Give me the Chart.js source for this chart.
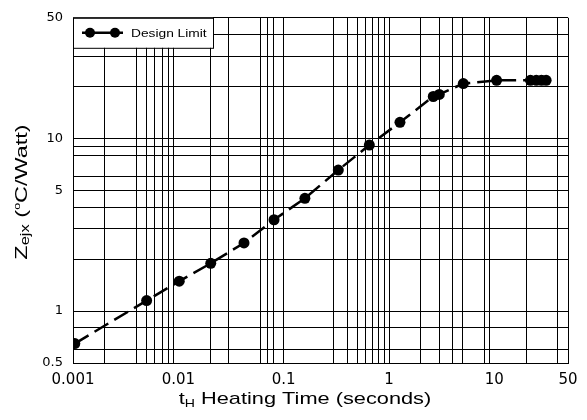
<!DOCTYPE html>
<html><head><meta charset="utf-8">
<script src="https://cdn.jsdelivr.net/npm/chart.js@4/dist/chart.umd.min.js"></script>
<style>html,body{margin:0;padding:0;background:#fff;}#wrap{width:587px;height:420px;position:relative;}canvas{display:block;}</style>
</head><body><div id="wrap"><canvas id="c" width="587" height="420"></canvas></div>
<script>
// ---- data ----
const heatingTime = [0.00104, 0.005, 0.0102, 0.0203, 0.042, 0.081, 0.159, 0.33, 0.65, 1.27, 2.63, 3.0, 5.07, 10.5, 22, 25, 28, 31];
const zejx        = [0.648, 1.15, 1.49, 1.89, 2.48, 3.38, 4.5, 6.56, 9.15, 12.4, 17.5, 18.0, 20.8, 21.7, 21.7, 21.7, 21.7, 21.7];
const seriesLabel = 'Design Limit';

// tick labels and the grid lines visible in the reference
const xTickLabels = [0.001, 0.01, 0.1, 1, 10, 50];
const yTickLabels = [0.5, 1, 5, 10, 50];
const xGridLines  = [0.001, 0.002, 0.004, 0.005, 0.006, 0.007, 0.008, 0.009, 0.02, 0.03, 0.06, 0.07, 0.08, 0.1,
                     0.3, 0.4, 0.5, 0.6, 0.7, 0.8, 0.9, 1, 2, 3, 4, 5, 8, 9, 20, 40, 50];
const yGridLines  = [0.5, 0.6, 0.8, 1, 2, 3, 4, 5, 6, 8, 9, 10, 20, 30, 40, 50];

const same = (a, b) => Math.abs(a - b) / b < 1e-6;
const inList = (list, v) => list.some(t => same(t, v));
const tickSet = (grid, labels) => {
  const all = grid.slice();
  labels.forEach(l => { if (!inList(all, l)) all.push(l); });
  return all.sort((a, b) => a - b);
};
const fmt = v => String(v);

const TXT = 'Liberation Sans, Arial, sans-serif';

function drawRich(ctx, parts) {
  let x = 0;
  parts.forEach(p => {
    ctx.font = p.size + 'px ' + TXT;
    ctx.fillText(p.text, x, p.dy || 0);
    x += ctx.measureText(p.text).width;
  });
  return x;
}
function richWidth(ctx, parts) {
  let w = 0;
  parts.forEach(p => { ctx.font = p.size + 'px ' + TXT; w += ctx.measureText(p.text).width; });
  return w;
}

const titlePlugin = {
  id: 'titles',
  afterDraw(chart) {
    const ctx = chart.ctx;
    ctx.save();
    ctx.fillStyle = '#000';
    ctx.textBaseline = 'alphabetic';
    ctx.textAlign = 'left';
    // x title
    const xParts = [{text: 't', size: 17}, {text: 'H', size: 11, dy: 3}, {text: ' Heating Time (seconds)', size: 17}];
    const sx = 1.28;
    const wx = richWidth(ctx, xParts) * sx;
    ctx.save();
    ctx.translate(305 - wx / 2, 404);
    ctx.scale(sx, 1);
    drawRich(ctx, xParts);
    ctx.restore();
    // y title
    const yParts = [{text: 'Z', size: 17}, {text: 'ejx', size: 12, dy: 2}, {text: ' (', size: 17}, {text: 'o', size: 9, dy: -7},
                    {text: 'C/Watt)', size: 17}];
    const sy = 1.38;
    const wy = richWidth(ctx, yParts) * sy;
    ctx.save();
    ctx.translate(27, 192 + wy / 2);
    ctx.rotate(-Math.PI / 2);
    ctx.scale(sy, 1);
    drawRich(ctx, yParts);
    ctx.restore();
    ctx.restore();
  }
};

const legendPlugin = {
  id: 'boxLegend',
  afterDatasetsDraw(chart) {
    const ctx = chart.ctx, a = chart.chartArea;
    const ds = chart.data.datasets[0];
    const x0 = a.left, y0 = a.top, w = 140, h = 30;
    ctx.save();
    ctx.fillStyle = '#fff';
    ctx.fillRect(x0, y0, w, h);
    ctx.strokeStyle = '#000';
    ctx.lineWidth = 1;
    ctx.strokeRect(x0 + 0.5, y0 + 0.5, w, h);
    const cy = y0 + h / 2;
    ctx.beginPath();
    ctx.moveTo(x0 + 9, cy); ctx.lineTo(x0 + 50, cy);
    ctx.lineWidth = 2.5; ctx.strokeStyle = ds.borderColor; ctx.stroke();
    ctx.fillStyle = ds.pointBackgroundColor;
    [x0 + 17, x0 + 42].forEach(px => { ctx.beginPath(); ctx.arc(px, cy, 5, 0, Math.PI * 2); ctx.fill(); });
    ctx.fillStyle = '#000';
    ctx.font = '11px ' + TXT;
    ctx.textBaseline = 'middle';
    ctx.translate(x0 + 58, cy + 1);
    ctx.scale(1.25, 1);
    ctx.fillText(ds.label, 0, 0);
    ctx.restore();
  }
};

new Chart(document.getElementById('c'), {
  type: 'line',
  data: {
    datasets: [{
      label: seriesLabel,
      data: heatingTime.map((t, i) => ({x: t, y: zejx[i]})),
      borderColor: '#000',
      backgroundColor: '#000',
      pointBackgroundColor: '#000',
      pointBorderColor: '#000',
      pointBorderWidth: 0,
      pointRadius: 5.5,
      borderWidth: 2.5,
      borderDash: [16, 7],
      tension: 0,
      fill: false
    }]
  },
  options: {
    responsive: false,
    animation: false,
    devicePixelRatio: 1,
    layout: {padding: {top: 8, right: 19, left: 0, bottom: 0}},
    plugins: {legend: {display: false}, tooltip: {enabled: false}},
    scales: {
      x: {
        type: 'logarithmic',
        min: 0.001, max: 50,
        afterBuildTicks: s => { s.ticks = tickSet(xGridLines, xTickLabels).map(v => ({value: v})); },
        afterFit: s => { s.height = 57; },
        ticks: {
          autoSkip: false, maxRotation: 0, minRotation: 0, padding: 8, color: '#000',
          font: {family: 'DejaVu Sans', size: 15},
          callback: v => inList(xTickLabels, v) ? fmt(v) : ''
        },
        grid: {
          drawTicks: false, lineWidth: 1,
          color: c => inList(xGridLines, c.tick.value) ? '#000' : 'rgba(0,0,0,0)'
        },
        border: {display: true, color: '#000', width: 1}
      },
      y: {
        type: 'logarithmic',
        min: 0.5, max: 50,
        afterBuildTicks: s => { s.ticks = tickSet(yGridLines, yTickLabels).map(v => ({value: v})); },
        afterFit: s => { s.width = 73; },
        ticks: {
          autoSkip: false, padding: 10, color: '#000',
          font: {family: 'DejaVu Sans', size: 13},
          callback: v => inList(yTickLabels, v) ? fmt(v) : ''
        },
        grid: {
          drawTicks: false, lineWidth: 1,
          color: c => inList(yGridLines, c.tick.value) ? '#000' : 'rgba(0,0,0,0)'
        },
        border: {display: true, color: '#000', width: 1}
      }
    }
  },
  plugins: [legendPlugin, titlePlugin]
});
</script></body></html>
